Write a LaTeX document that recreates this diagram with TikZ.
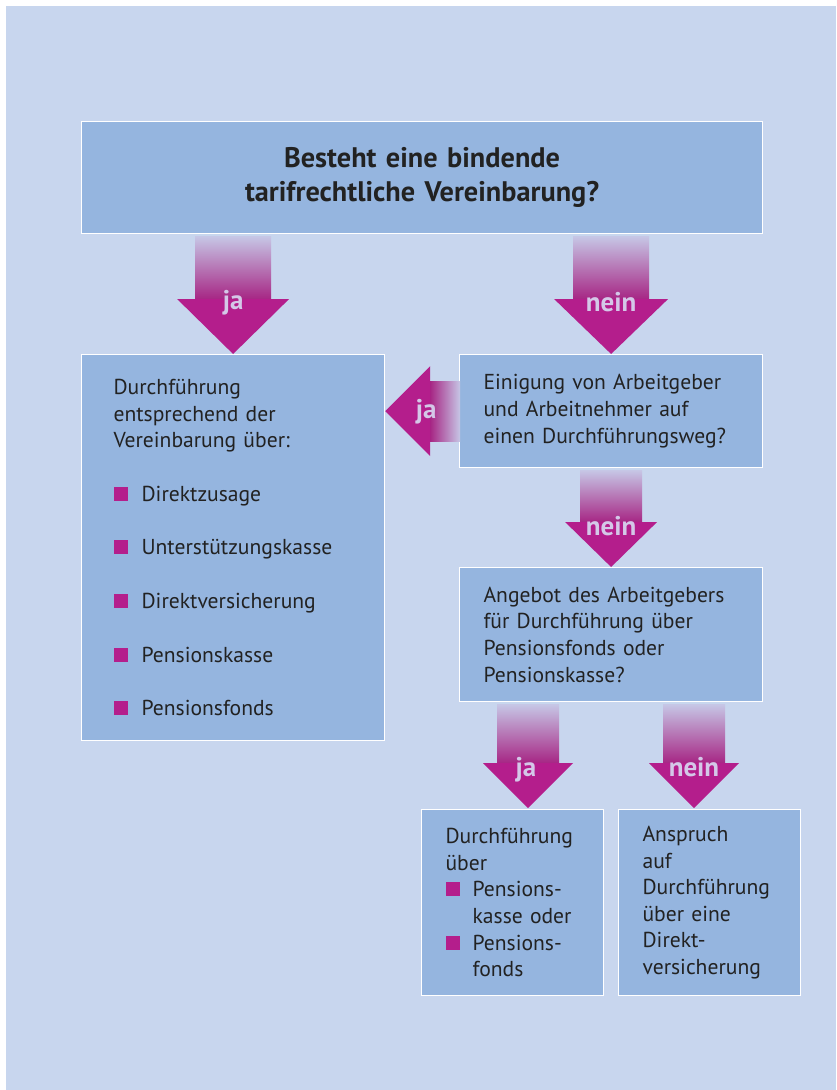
\documentclass[tikz,border=0pt]{standalone}
\usepackage{fontspec}
\setmainfont{PT Sans}
\usetikzlibrary{positioning,calc}

\definecolor{bgblue}{HTML}{C8D6EE}
\definecolor{boxblue}{HTML}{95B5DF}
\definecolor{accent}{HTML}{B41E8C}
\definecolor{labelcol}{HTML}{D4C8E8}
\definecolor{txt}{HTML}{222222}

\newcommand{\bsq}{\textcolor{accent}{\rule[0.5pt]{14pt}{14pt}}}

\tikzset{
  infobox/.style={draw=white, line width=1.2pt, fill=boxblue, anchor=north west,
    inner xsep=24pt, inner ysep=0pt, text=txt, align=left,
    font=\fontsize{21.6}{26.6}\selectfont},
  shaftdown/.style={top color=accent!8!bgblue, bottom color=accent!90!black!95},
  shaftleft/.style={left color=accent!90!black!95, right color=accent!8!bgblue},
  arrowlabel/.style={text=labelcol, inner sep=0pt, font=\bfseries\fontsize{27}{30}\selectfont}
}

\begin{document}
\begin{tikzpicture}[x=1pt,y=-1pt]
    \useasboundingbox (0,0) rectangle (836,1090);
    \fill[white] (0,0) rectangle (836,1090);
    \fill[bgblue] (6,6) rectangle (836,1090);

    %% boxes
    \node[infobox, align=center, minimum width=681, minimum height=112, text width=633,
      font=\bfseries\fontsize{28.3}{34}\selectfont] (frage) at (81,121)
      {Besteht eine bindende\\tarifrechtliche Vereinbarung?};
    \node[infobox, inner xsep=32pt, minimum width=303, minimum height=386, text width=239] (direct) at (81,354)
      {Durchführung\\entsprechend der\\Vereinbarung über:\\[27pt]
       \bsq\hspace{14pt}Direktzusage\\[27pt]
       \bsq\hspace{14pt}Unterstützungskasse\\[27pt]
       \bsq\hspace{14pt}Direktversicherung\\[27pt]
       \bsq\hspace{14pt}Pensionskasse\\[27pt]
       \bsq\hspace{14pt}Pensionsfonds};
    \node[infobox, minimum width=303, minimum height=113, text width=255] (einigung) at (459,354)
      {Einigung von Arbeitgeber\\und Arbeitnehmer auf\\einen Durchführungsweg?};
    \node[infobox, minimum width=303, minimum height=134, text width=255] (angebot) at (459,567)
      {Angebot des Arbeitgebers\\für Durchführung über\\Pensionsfonds oder\\Pensionskasse?};
    \node[infobox, minimum width=182, minimum height=186, text width=134] (kasse) at (421,809)
      {Durchführung\\über\\
       \bsq\hspace{13pt}Pensions-\\
       \hspace*{27pt}kasse oder\\
       \bsq\hspace{13pt}Pensions-\\
       \hspace*{27pt}fonds};
    \node[infobox, minimum width=182, minimum height=186, text width=134] (anspruch) at (618,809)
      {Anspruch\\auf\\Durchführung\\über eine\\Direkt-\\versicherung};

    %% arrows: ja / nein below the question
    \coordinate (t1) at (direct.north);
    \shade[shaftdown] ($(t1)+(-38,-118)$) rectangle ($(t1)+(38,-55)$);
    \fill[accent] ($(t1)+(-56,-55)$) -- (t1) -- ($(t1)+(56,-55)$) -- cycle;
    \node[arrowlabel] (ja1) at ($(t1)+(0,-51)$) {ja};

    \coordinate (t2) at (einigung.north);
    \shade[shaftdown] ($(t2)+(-38,-118)$) rectangle ($(t2)+(38,-55)$);
    \fill[accent] ($(t2)+(-57,-55)$) -- (t2) -- ($(t2)+(57,-55)$) -- cycle;
    \node[arrowlabel] (nein1) at ($(t2)+(0,-52)$) {nein};

    %% arrow ja to the left
    \coordinate (t3) at (direct.east |- einigung.west);
    \shade[shaftleft] ($(t3)+(45,-30)$) rectangle ($(t3)+(75,30)$);
    \fill[accent] ($(t3)+(45,-45)$) -- (t3) -- ($(t3)+(45,45)$) -- cycle;
    \node[arrowlabel] (ja2) at ($(t3)+(41,1)$) {ja};

    %% arrow nein to the offer
    \coordinate (t4) at (angebot.north);
    \shade[shaftdown] ($(t4)+(-31,-97)$) rectangle ($(t4)+(31,-45)$);
    \fill[accent] ($(t4)+(-46,-45)$) -- (t4) -- ($(t4)+(46,-45)$) -- cycle;
    \node[arrowlabel] (nein2) at ($(t4)+(0,-41)$) {nein};

    %% last two arrows
    \coordinate (t5) at (528,808);
    \shade[shaftdown] ($(t5)+(-31,-104)$) rectangle ($(t5)+(31,-45)$);
    \fill[accent] ($(t5)+(-45,-45)$) -- (t5) -- ($(t5)+(45,-45)$) -- cycle;
    \node[arrowlabel] (ja3) at ($(t5)+(-2,-38)$) {ja};

    \coordinate (t6) at (694,808);
    \shade[shaftdown] ($(t6)+(-31,-104)$) rectangle ($(t6)+(31,-45)$);
    \fill[accent] ($(t6)+(-45,-45)$) -- (t6) -- ($(t6)+(45,-45)$) -- cycle;
    \node[arrowlabel] (nein3) at ($(t6)+(0,-41)$) {nein};
\end{tikzpicture}
\end{document}
